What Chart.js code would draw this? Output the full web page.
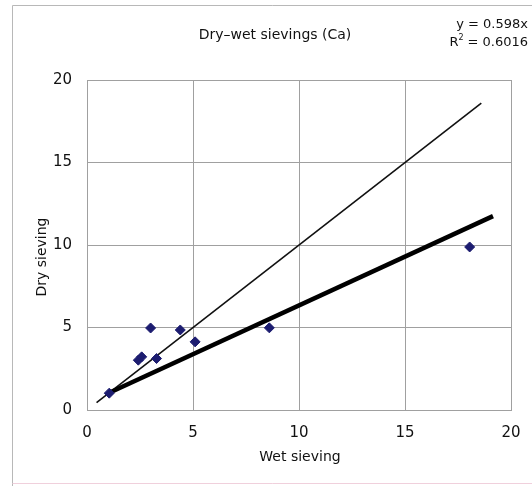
<!DOCTYPE html>
<html>
<head>
<meta charset="utf-8">
<script src="https://cdn.jsdelivr.net/npm/chart.js@4/dist/chart.umd.min.js"></script>
<style>
html,body{margin:0;padding:0;background:#fff;}
#wrap{width:532px;height:486px;position:relative;}
</style>
</head>
<body>
<div id="wrap"><canvas id="c" width="532" height="486"></canvas></div>
<script>
const wetSieving = [1.05, 2.42, 2.58, 3.0, 3.28, 4.4, 5.1, 8.6, 18.05];
const drySieving = [1.02, 3.02, 3.22, 4.97, 3.12, 4.85, 4.13, 4.98, 9.88];
const oneToOneX = [0.45, 18.6];
const oneToOneY = [0.45, 18.6];
const trendX = [1.05, 19.15];
const trendY = [1.05, 11.75];
const xTicks = [0, 5, 10, 15, 20];
const yTicks = [0, 5, 10, 15, 20];
const titleText = 'Dry\u2013wet sievings (Ca)';
const eqText = 'y = 0.598x';
const r2Text = '= 0.6016';
const xTitle = 'Wet sieving';
const yTitle = 'Dry sieving';

const FONT = '"DejaVu Sans", "Liberation Sans", sans-serif';

const textPlugin = {
  id: 'texts',
  beforeDraw(chart) {
    const ctx = chart.ctx;
    ctx.save();
    ctx.fillStyle = '#fff';
    ctx.fillRect(0, 0, 532, 486);
    ctx.strokeStyle = '#b8b8b8';
    ctx.lineWidth = 1;
    ctx.beginPath();
    ctx.moveTo(12.5, 486);
    ctx.lineTo(12.5, 5.5);
    ctx.lineTo(532, 5.5);
    ctx.stroke();
    ctx.strokeStyle = '#f0d0dc';
    ctx.beginPath();
    ctx.moveTo(12.5, 483.5);
    ctx.lineTo(532, 483.5);
    ctx.stroke();
    ctx.restore();
  },
  afterDraw(chart) {
    const ctx = chart.ctx;
    ctx.save();
    ctx.fillStyle = '#111';
    ctx.textBaseline = 'middle';
    ctx.font = '14px ' + FONT;
    ctx.textAlign = 'center';
    ctx.fillText(titleText, 275, 35);
    ctx.font = '13px ' + FONT;
    ctx.textAlign = 'right';
    ctx.fillText(eqText, 528, 25);
    ctx.fillText(r2Text, 528, 43);
    const w = ctx.measureText(r2Text).width;
    ctx.fillText('R', 528 - w - 9, 43);
    ctx.font = '8px ' + FONT;
    ctx.textAlign = 'left';
    ctx.fillText('2', 528 - w - 9, 38);
    ctx.font = '14px ' + FONT;
    ctx.textAlign = 'center';
    ctx.fillText(xTitle, 300, 457);
    ctx.translate(42, 257);
    ctx.rotate(-Math.PI / 2);
    ctx.fillText(yTitle, 0, 0);
    ctx.restore();
  }
};

new Chart(document.getElementById('c'), {
  type: 'scatter',
  data: {
    datasets: [
      {
        label: 'data',
        data: wetSieving.map((x, i) => ({x: x, y: drySieving[i]})),
        pointStyle: 'rectRot',
        pointRadius: 5,
        backgroundColor: '#1c1c70',
        borderColor: '#1c1c70',
        showLine: false,
        order: 0
      },
      {
        label: '1:1',
        data: oneToOneX.map((x, i) => ({x: x, y: oneToOneY[i]})),
        showLine: true,
        borderColor: '#111',
        borderWidth: 1.6,
        pointRadius: 0,
        order: 2
      },
      {
        label: 'trend',
        data: trendX.map((x, i) => ({x: x, y: trendY[i]})),
        showLine: true,
        borderColor: '#000',
        borderWidth: 4.5,
        pointRadius: 0,
        order: 1
      }
    ]
  },
  options: {
    responsive: false,
    animation: false,
    devicePixelRatio: 1,
    layout: {padding: {left: 0, right: 21, top: 80, bottom: 0}},
    plugins: {legend: {display: false}, tooltip: {enabled: false}, title: {display: false}},
    scales: {
      x: {
        type: 'linear', min: 0, max: 20,
        afterBuildTicks: s => { s.ticks = xTicks.map(v => ({value: v})); },
        afterFit: s => { s.height = 76; s.paddingRight = 0; s.paddingLeft = 0; },
        grid: {color: '#a0a0a0', lineWidth: 1, drawTicks: false},
        border: {color: '#a0a0a0'},
        ticks: {padding: 14, color: '#111', font: {family: FONT, size: 15}}
      },
      y: {
        type: 'linear', min: 0, max: 20,
        afterBuildTicks: s => { s.ticks = yTicks.map(v => ({value: v})); },
        afterFit: s => { s.width = 87; s.paddingTop = 0; s.paddingBottom = 0; },
        grid: {color: '#a0a0a0', lineWidth: 1, drawTicks: false},
        border: {color: '#a0a0a0'},
        ticks: {padding: 15, color: '#111', font: {family: FONT, size: 15}}
      }
    }
  },
  plugins: [textPlugin]
});
</script>
</body>
</html>
